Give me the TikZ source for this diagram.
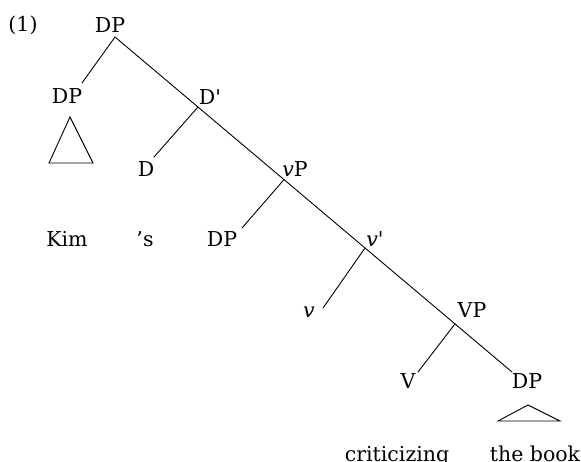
\documentclass[tikz,border=0pt]{standalone}
\usepackage{fontspec}
\setmainfont{DejaVu Serif}[Ligatures=TeXOff]
\begin{document}
\begin{tikzpicture}[x=1pt,y=-1pt,
  lbl/.style={anchor=base,inner sep=0pt,font=\fontsize{20.5}{24}\selectfont},
  br/.style={line width=0.9pt,line cap=round},
  tri/.style={line width=0.9pt,line join=miter}]
\useasboundingbox (0,0) rectangle (581,462);
% labels
\node[lbl] (ex) at (23,32) {(1)};
\node[lbl] (dp0) at (110,33) {DP};
\node[lbl] (dp1) at (67,104) {DP};
\node[lbl] (dbar) at (210,105) {D'};
\node[lbl] (d) at (146,177) {D};
\node[lbl] (vp) at (295,177) {\textit{v}P};
\node[lbl] (kim) at (67,247) {Kim};
\node[lbl] (poss) at (145,247) {’s};
\node[lbl] (dp2) at (222,247) {DP};
\node[lbl] (vbar) at (375,247) {\textit{v}'};
\node[lbl] (v) at (309,318) {\textit{v}};
\node[lbl] (VP) at (472,318) {VP};
\node[lbl] (V) at (408,388) {V};
\node[lbl] (dp3) at (527,388) {DP};
\node[lbl] (crit) at (397,461) {criticizing};
\node[lbl] (book) at (535,461) {the book};
% tree points
\coordinate (tTop) at (115,37);
\coordinate (tEnd) at (512,372);
\coordinate (jDbar) at (198,107);
\coordinate (jvP) at (284,179.6);
\coordinate (jvbar) at (365,248);
\coordinate (jVP) at (455,323.9);
\coordinate (eDP1) at (82,83);
\coordinate (eD) at (154,157);
\coordinate (eDP2) at (242,228);
\coordinate (ev) at (323,308);
\coordinate (eV) at (418,372);
% branches
\draw[br] (tTop) -- (tEnd);
\draw[br] (tTop) -- (eDP1);
\draw[br] (jDbar) -- (eD);
\draw[br] (jvP) -- (eDP2);
\draw[br] (jvbar) -- (ev);
\draw[br] (jVP) -- (eV);
% triangles
\draw[tri] (70,117) -- (49,163) -- (93,163) -- cycle;
\draw[tri] (528,405) -- (498,421) -- (560,421) -- cycle;
\end{tikzpicture}
\end{document}
